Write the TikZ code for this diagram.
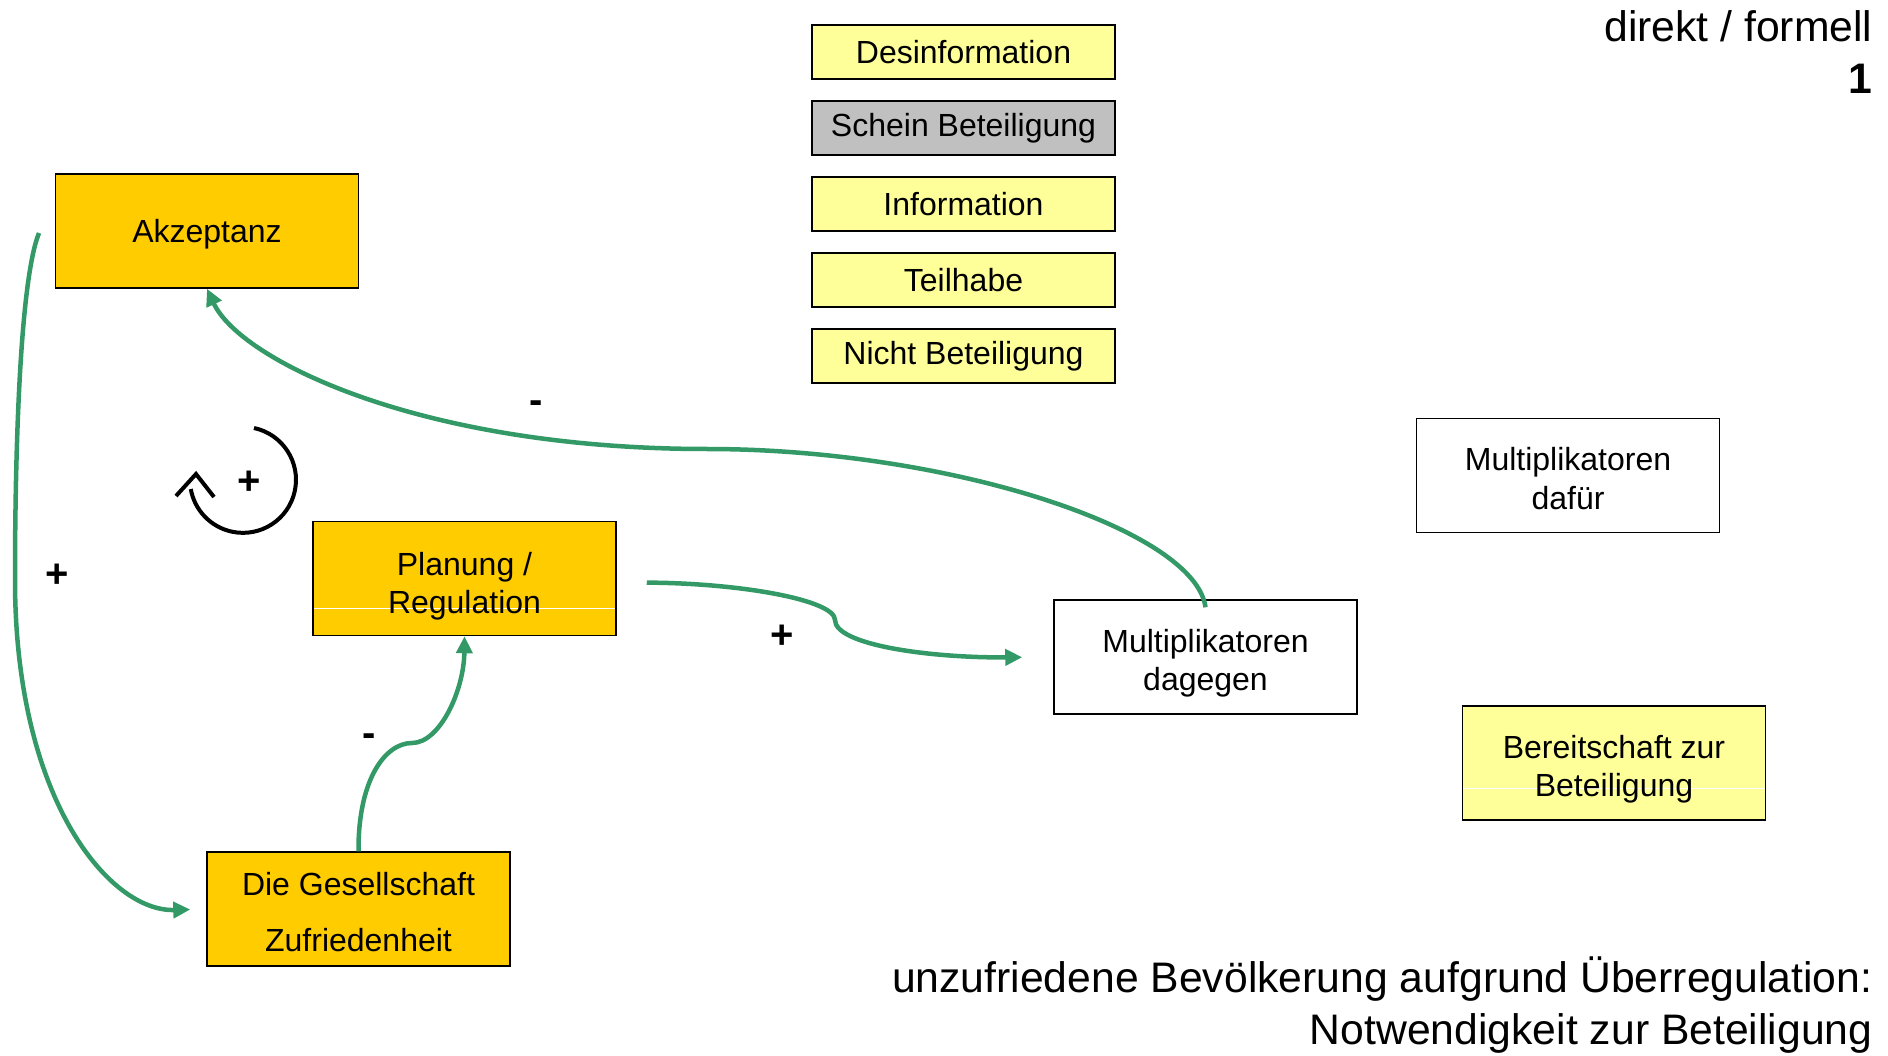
\documentclass[tikz,border=0pt]{standalone}
\usepackage{fontspec}
\setmainfont{Liberation Sans}
\usetikzlibrary{arrows.meta, positioning}

\definecolor{gelb}{HTML}{FFCC00}
\definecolor{hellgelb}{HTML}{FFFF99}
\definecolor{grau}{HTML}{C0C0C0}
\definecolor{pfeilgruen}{HTML}{339966}

\tikzset{
  box/.style={draw=black, line width=1.5pt, minimum width=303pt, minimum height=114pt, align=center, inner sep=0pt, font=\fontsize{32}{38.5}\selectfont},
  zweizeilig/.style={text height=67pt, text depth=0pt},
  weisslinie/.style={path picture={\draw[white, line width=1pt] ([yshift=#1]path picture bounding box.west) -- ([yshift=#1]path picture bounding box.east);}},
  stufe/.style={box, minimum height=54pt, fill=hellgelb},
  flow/.style={->, >={Triangle[length=17pt, width=16pt]}, pfeilgruen, line width=4.5pt},
  sign/.style={font=\fontsize{40}{40}\bfseries\selectfont, inner sep=0pt},
}

\begin{document}
\begin{tikzpicture}[x=1pt, y=-1pt]
      \useasboundingbox (0,0) rectangle (1888,1056);

      % Beteiligungsstufen
      \node[stufe] (desinfo) at (963.5,52) {Desinformation};
      \node[stufe, fill=grau, below=20.5pt of desinfo] (schein) {Schein Beteiligung};
      \node[stufe, below=20.5pt of schein] (info) {Information};
      \node[stufe, below=20.5pt of info] (teilhabe) {Teilhabe};
      \node[stufe, below=20.5pt of teilhabe] (nicht) {Nicht Beteiligung};

      % Variablen
      \node[box, fill=gelb, text depth=0pt] (akz) at (207,231) {Akzeptanz};
      \node[box, fill=gelb, zweizeilig, text height=70pt, weisslinie=-29.5pt] (planung) at (464.5,578.5) {Planung /\\Regulation};
      \node[box, fill=gelb, font=\fontsize{32}{56}\selectfont, text height=84pt, text depth=0pt] (gesell) at (358.5,909) {Die Gesellschaft\\Zufriedenheit};
      \node[box, zweizeilig] (dagegen) at (1205.5,657) {Multiplikatoren\\dagegen};
      \node[box, zweizeilig] (dafuer) at (1568,475.5) {Multiplikatoren\\dafür};
      \node[box, zweizeilig, fill=hellgelb, weisslinie=-25pt] (bereit) at (1614,763) {Bereitschaft zur\\Beteiligung};

      % Wirkungen
      \draw[flow] ([yshift=-8pt]dagegen.north) .. controls (1195,530) and (950,449) .. (707,449) .. controls (420,449) and (240,360) .. (akz.south);
      \draw[flow, shorten <=30pt, shorten >=31pt] ([yshift=-4pt]planung.east) .. controls (740,583) and (835,600) .. (835,620) .. controls (835,645) and (930,658) .. (dagegen.west);
      \draw[flow] (gesell.north) .. controls (358,780) and (385,743) .. (412,743) .. controls (440,743) and (464,690) .. (planung.south);
      \coordinate (links) at (39,233);
      \draw[flow, shorten >=16pt] (links) .. controls (20,280) and (15,450) .. (15,580) .. controls (15,800) and (110,912) .. (gesell.west);

      \node[sign] (m1) at (536,407) {-};
      \node[sign] (p1) at (782,637) {+};
      \node[sign] (m2) at (369,740) {-};
      \node[sign] (p2) at (57,576) {+};

      % Rueckkopplung
      \node[sign] (loop) at (249,483) {+};
      \draw[line width=4pt] (254,428) arc[start angle=-78, end angle=170, radius=53];
      \draw[line width=4pt, miter limit=4] (176,496) -- (196,474) -- (214,497);

      % Texte
      \node[anchor=east, align=right, font=\fontsize{42.7}{52}\selectfont] (titel) at (1876,52) {direkt / formell\\\textbf{1}};
      \node[anchor=east, align=right, font=\fontsize{42.7}{52}\selectfont] (fazit) at (1876,1005) {unzufriedene Bevölkerung aufgrund Überregulation:\\Notwendigkeit zur Beteiligung};

    \end{tikzpicture}
\end{document}
